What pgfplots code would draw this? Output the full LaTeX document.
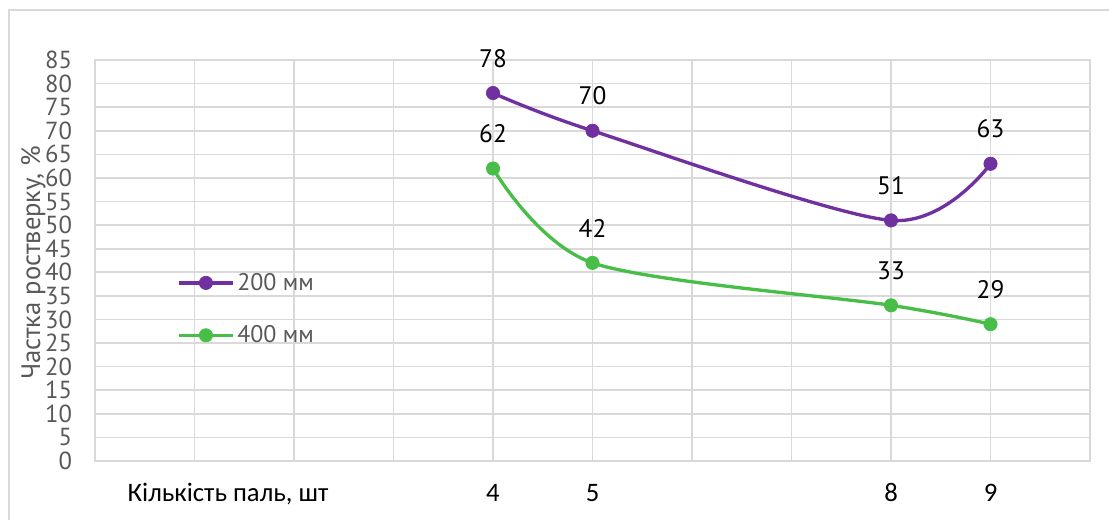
\documentclass[border=0pt]{standalone}
\usepackage{pgfplots}
\pgfplotsset{compat=1.18}
\usepackage{fontspec}
\setmainfont{PT Sans}
\newfontfamily\calib{Carlito}
\definecolor{gridgray}{RGB}{217,217,217}
\definecolor{txtgray}{RGB}{89,89,89}
\definecolor{lpurple}{RGB}{112,48,160}
\definecolor{lgreen}{RGB}{72,190,72}

\begin{document}
\begin{tikzpicture}
\useasboundingbox (0,0) rectangle (831.75pt,389.25pt);
% outer chart frame
\draw[gridgray, line width=1.2pt] (6.75pt,-10pt) -- (6.75pt,381.75pt) -- (850pt,381.75pt);
\begin{axis}[
  at={(71.25pt,43.5pt)}, anchor=south west,
  scale only axis, width=746.25pt, height=300.75pt,
  xmin=0, xmax=10, ymin=0, ymax=85,
  xtick={1,...,9}, xticklabels={,,,4,5,,,8,9},
  ytick={0,5,...,85},
  major tick length=0pt,
  grid=major, grid style={gridgray, line width=1.2pt},
  axis line style={gridgray, line width=1.2pt},
  /pgf/number format/assume math mode=true,
  tick label style={font=\fontsize{18.5}{20}\selectfont},
  yticklabel style={text=txtgray, anchor=east, inner sep=0pt, xshift=-17pt},
  xticklabel style={font=\calib\fontsize{20}{22}\selectfont, text=black, anchor=base, inner sep=0pt, yshift=-30pt},
  clip=false,
  nodes near coords,
  nodes near coords style={font=\fontsize{19}{21}\selectfont, text=black, anchor=center, inner sep=0pt, yshift=26pt},
  legend style={at={(axis cs:0.824,32.2)}, anchor=west, draw=none, fill=none,
    inner sep=0pt, row sep=21pt, font=\fontsize{18}{20}\selectfont, text=txtgray,
    cells={anchor=west}},
  legend image code/.code={\draw[mark repeat=2,mark phase=2,#1] plot coordinates {(0pt,0pt) (20.25pt,0pt) (40.5pt,0pt)};},
]
\addplot[lpurple, line width=2.5pt, smooth, mark=*, mark size=5pt, mark options={solid, line width=0.5pt}]
  coordinates {(4,78) (5,70) (8,51) (9,63)};
\addlegendentry{200 мм}
\addplot[lgreen, line width=2.5pt, smooth, mark=*, mark size=5pt, mark options={solid, line width=0.5pt}]
  coordinates {(4,62) (5,42) (8,33) (9,29)};
\addlegendentry{400 мм}
\node[rotate=90, text=txtgray, font=\fontsize{20}{22}\selectfont] at (axis cs:-0.62,42) {Частка ростверку, \%};
\node[font=\calib\fontsize{20}{22}\selectfont, anchor=base] at (axis cs:1.337,0) [yshift=-30pt] {Кількість паль, шт};
\end{axis}
\end{tikzpicture}
\end{document}
